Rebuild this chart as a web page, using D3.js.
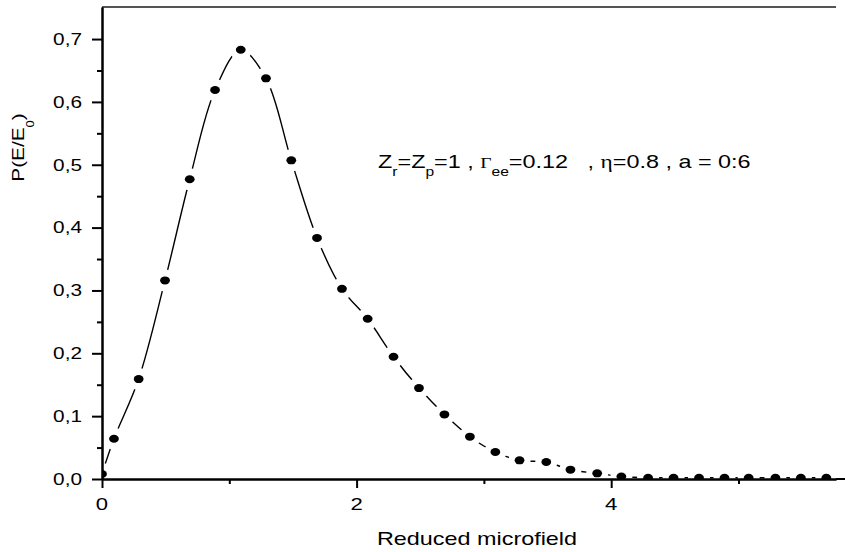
<!DOCTYPE html>
<html>
<head>
<meta charset="utf-8">
<script src="https://cdn.jsdelivr.net/npm/d3@7"></script>
<style>
  body { margin: 0; background: #fff; }
  svg { display: block; }
  text { font-family: "Liberation Sans", Arial, sans-serif; fill: #000; }
</style>
</head>
<body>
<div id="chart"></div>
<script>
// microfield values
var field = [0, 0.094, 0.288, 0.495, 0.689, 0.888, 1.09, 1.288, 1.487, 1.689, 1.885, 2.087, 2.29, 2.49, 2.69,
    2.89, 3.09, 3.28, 3.49, 3.68, 3.89, 4.08, 4.29, 4.49, 4.69, 4.89, 5.08, 5.29, 5.49, 5.69];
var prob = [0.008, 0.064, 0.159, 0.316, 0.477, 0.619, 0.683, 0.6375, 0.507, 0.3836, 0.3026, 0.2549, 0.1945, 0.1447, 0.1028,
    0.0673, 0.0429, 0.0297, 0.027, 0.0148, 0.009, 0.004, 0.002, 0.002, 0.002, 0.002, 0.002, 0.002, 0.002, 0.002];

var xTicks = [0, 2, 4];
var xTickLabels = ["0", "2", "4"];
var xMinor = [1, 3, 5];
var yTicks = [0, 0.1, 0.2, 0.3, 0.4, 0.5, 0.6, 0.7];
var yTickLabels = ["0,0", "0,1", "0,2", "0,3", "0,4", "0,5", "0,6", "0,7"];
var yMinor = [0.05, 0.15, 0.25, 0.35, 0.45, 0.55, 0.65];

var SX = 1.3; // the fonts in the original are drawn wide
var GREEK = "'Liberation Serif', 'Times New Roman', serif";

var margin = { top: 7, left: 102 },
    width = 734,
    height = 472;

var svg = d3.select("#chart")
    .append("svg")
    .attr("width", 845)
    .attr("height", 552);

var g = svg.append("g")
    .attr("transform", "translate(" + margin.left + "," + margin.top + ")");

var x = d3.scaleLinear().domain([0, 5.766]).range([0, width]);
var y = d3.scaleLinear().domain([0, 0.751]).range([height, 0]);

var points = field.map(function(d, i) { return { x: d, y: prob[i] }; });

var defs = svg.append("defs");
defs.append("clipPath").attr("id", "plotClip")
    .append("rect").attr("x", 0).attr("y", 0).attr("width", width).attr("height", height);

// the curve is broken around every symbol
var mask = defs.append("mask").attr("id", "gaps")
    .attr("maskUnits", "userSpaceOnUse")
    .attr("x", -20).attr("y", -20).attr("width", width + 40).attr("height", height + 40);
mask.append("rect")
    .attr("x", -20).attr("y", -20).attr("width", width + 40).attr("height", height + 40)
    .attr("fill", "white");
mask.selectAll("circle").data(points).enter()
    .append("circle")
    .attr("cx", function(d) { return x(d.x); })
    .attr("cy", function(d) { return y(d.y); })
    .attr("r", 11)
    .attr("fill", "black");

var plot = g.append("g").attr("clip-path", "url(#plotClip)");

var line = d3.line()
    .x(function(d) { return x(d.x); })
    .y(function(d) { return y(d.y); })
    .curve(d3.curveCatmullRom.alpha(0.5));

plot.append("path")
    .datum(points)
    .attr("d", line)
    .attr("fill", "none")
    .attr("stroke", "#000")
    .attr("stroke-width", 1.4)
    .attr("mask", "url(#gaps)");

plot.selectAll(".dot").data(points).enter()
    .append("ellipse")
    .attr("class", "dot")
    .attr("cx", function(d) { return x(d.x); })
    .attr("cy", function(d) { return y(d.y); })
    .attr("rx", 4.9)
    .attr("ry", 4)
    .attr("fill", "#000");

// top frame
g.append("line")
    .attr("x1", 0).attr("x2", width)
    .attr("y1", 0).attr("y2", 0)
    .attr("stroke", "#555")
    .attr("stroke-width", 2);

// axes
function styleAxis(sel) {
    sel.selectAll("path, line").attr("stroke", "#000").attr("stroke-width", 2);
    sel.selectAll("text").remove();
}

g.append("g")
    .attr("transform", "translate(0," + height + ")")
    .call(d3.axisBottom(x).tickValues(xMinor).tickSize(5).tickSizeOuter(0).tickFormat(""))
    .call(styleAxis);
g.append("g")
    .attr("transform", "translate(0," + height + ")")
    .call(d3.axisBottom(x).tickValues(xTicks).tickSize(9).tickSizeOuter(0).tickFormat(""))
    .call(styleAxis);
g.append("line")
    .attr("x1", width).attr("x2", 845 - margin.left)
    .attr("y1", height).attr("y2", height)
    .attr("stroke", "#000").attr("stroke-width", 2);

g.append("g")
    .call(d3.axisLeft(y).tickValues(yMinor).tickSize(5).tickSizeOuter(0).tickFormat(""))
    .call(styleAxis);
g.append("g")
    .call(d3.axisLeft(y).tickValues(yTicks).tickSize(10).tickSizeOuter(0).tickFormat(""))
    .call(styleAxis);

// tick labels
g.selectAll(".ylab").data(yTicks).enter()
    .append("text")
    .attr("class", "ylab")
    .attr("transform", function(d) { return "translate(-20," + (y(d) + 5.8) + ") scale(" + SX + ",1)"; })
    .attr("text-anchor", "end")
    .style("font-size", "16px")
    .text(function(d, i) { return yTickLabels[i]; });

g.selectAll(".xlab").data(xTicks).enter()
    .append("text")
    .attr("class", "xlab")
    .attr("transform", function(d) { return "translate(" + x(d) + "," + (height + 31) + ") scale(" + SX + ",1)"; })
    .attr("text-anchor", "middle")
    .style("font-size", "17px")
    .text(function(d, i) { return xTickLabels[i]; });

// axis titles
svg.append("text")
    .attr("transform", "translate(477,545) scale(" + SX + ",1)")
    .attr("text-anchor", "middle")
    .style("font-size", "18px")
    .text("Reduced microfield");

var yTitle = svg.append("text")
    .attr("transform", "translate(23.5,147.5) rotate(-90) scale(" + SX + ",1)")
    .attr("text-anchor", "middle")
    .style("font-size", "16px");
yTitle.append("tspan").text("P(E/E");
yTitle.append("tspan").attr("dy", 11).style("font-size", "10px").text("0");
yTitle.append("tspan").attr("dy", -11).text(")");

// annotation
var note = svg.append("text")
    .attr("transform", "translate(378,168) scale(" + SX + ",1)")
    .style("font-size", "18px")
    .style("white-space", "pre");
note.append("tspan").text("Z");
note.append("tspan").attr("dy", 8).style("font-size", "12px").text("r");
note.append("tspan").attr("dy", -8).text("=Z");
note.append("tspan").attr("dy", 8).style("font-size", "12px").text("p");
note.append("tspan").attr("dy", -8).text("=1 , ");
note.append("tspan").style("font-family", GREEK).style("font-size", "15px").text("\u0393");
note.append("tspan").attr("dy", 8).style("font-size", "12px").text("ee");
note.append("tspan").attr("dy", -8).text("=0.12   , ");
note.append("tspan").style("font-family", GREEK).style("font-size", "18px").text("\u03b7");
note.append("tspan").text("=0.8 , a = 0:6");
</script>
</body>
</html>
